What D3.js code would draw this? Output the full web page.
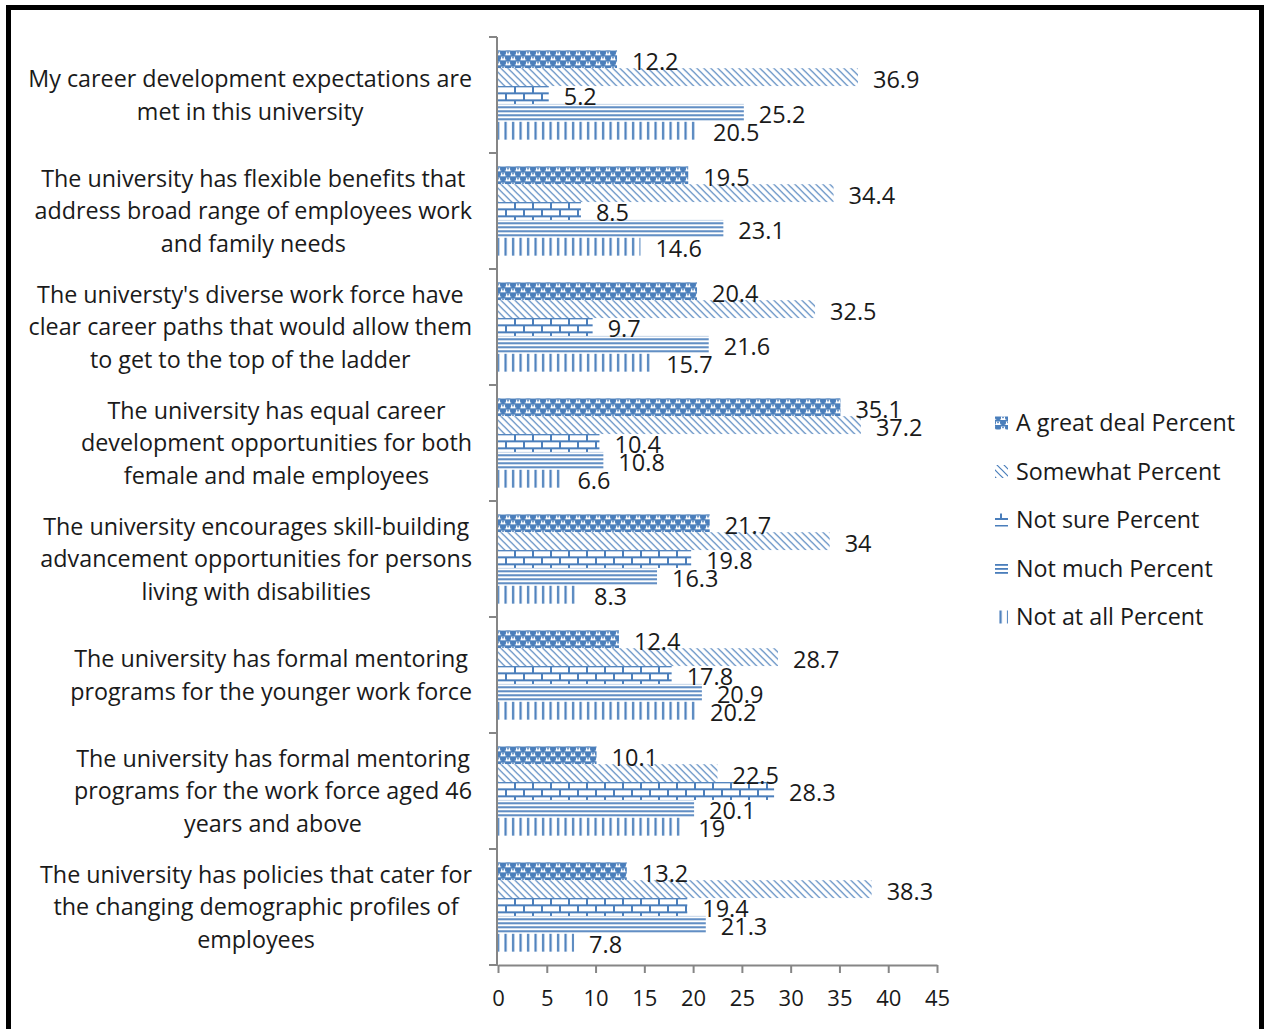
<!DOCTYPE html>
<html>
<head>
<meta charset="utf-8">
<script src="https://cdn.jsdelivr.net/npm/d3@7"></script>
<style>
  html, body { margin: 0; padding: 0; background: #fff; }
  svg { display: block; }
  text { font-family: "Open Sans", Lato, sans-serif; fill: #1a1a1a; }
</style>
</head>
<body>
<svg id="chart" width="1269" height="1029"></svg>
<script>
// Survey statements (top to bottom), each split into display lines
const categories = [
  ["My career development expectations are", "met in this university"],
  ["The university has flexible benefits that", "address broad range of employees work", "and family needs"],
  ["The universty's diverse work force have", "clear career paths that would allow them", "to get to the top of the ladder"],
  ["The university has equal career", "development opportunities for both", "female and male employees"],
  ["The university encourages skill-building", "advancement opportunities for persons", "living with disabilities"],
  ["The university has formal mentoring", "programs for the younger work force"],
  ["The university has formal mentoring", "programs for the work force aged 46", "years and above"],
  ["The university has policies that cater for", "the changing demographic profiles of", "employees"]
];

const seriesNames = ["A great deal Percent", "Somewhat Percent", "Not sure Percent", "Not much Percent", "Not at all Percent"];

const greatDeal = [12.2, 19.5, 20.4, 35.1, 21.7, 12.4, 10.1, 13.2];
const somewhat  = [36.9, 34.4, 32.5, 37.2, 34, 28.7, 22.5, 38.3];
const notSure   = [5.2, 8.5, 9.7, 10.4, 19.8, 17.8, 28.3, 19.4];
const notMuch   = [25.2, 23.1, 21.6, 10.8, 16.3, 20.9, 20.1, 21.3];
const notAtAll  = [20.5, 14.6, 15.7, 6.6, 8.3, 20.2, 19, 7.8];

const xTicks = [0, 5, 10, 15, 20, 25, 30, 35, 40, 45];

const seriesValues = [greatDeal, somewhat, notSure, notMuch, notAtAll];
const patternIds = ["pGreat", "pSome", "pSure", "pMuch", "pAll"];

const blue = "#4a7ebb";
const axisGray = "#868686";
const labelFont = 23.3, valueFont = 23.5, tickFont = 22;
const svg = d3.select("#chart");

// Hatch fills for each response series
const defs = svg.append("defs");
{
  const p = defs.append("pattern").attr("id", "pGreat").attr("patternUnits", "userSpaceOnUse")
    .attr("width", 10).attr("height", 10);
  p.append("rect").attr("width", 10).attr("height", 10).attr("fill", "#fff");
  p.append("rect").attr("x", 0).attr("y", 0).attr("width", 6).attr("height", 5).attr("rx", 2).attr("fill", blue);
  p.append("rect").attr("x", 5).attr("y", 5).attr("width", 6).attr("height", 5).attr("rx", 2).attr("fill", blue);
  p.append("rect").attr("x", -5).attr("y", 5).attr("width", 6).attr("height", 5).attr("rx", 2).attr("fill", blue);
  p.append("rect").attr("x", 0).attr("y", 0).attr("width", 10).attr("height", 1.5).attr("fill", blue);
  p.append("rect").attr("x", 0).attr("y", 5).attr("width", 10).attr("height", 1.5).attr("fill", blue);
  p.append("rect").attr("x", 7.2).attr("y", 1.6).attr("width", 1.6).attr("height", 1.6).attr("fill", blue);
  p.append("rect").attr("x", 2.2).attr("y", 6.6).attr("width", 1.6).attr("height", 1.6).attr("fill", blue);
}
{
  const p = defs.append("pattern").attr("id", "pSome").attr("patternUnits", "userSpaceOnUse")
    .attr("width", 7).attr("height", 7);
  p.append("rect").attr("width", 7).attr("height", 7).attr("fill", "#fff");
  p.append("path").attr("d", "M-2,-2L9,9M-2,5L2,9M5,-2L9,2")
    .attr("stroke", blue).attr("stroke-width", 1.2).attr("fill", "none");
}
{
  const p = defs.append("pattern").attr("id", "pSure").attr("patternUnits", "userSpaceOnUse")
    .attr("width", 18).attr("height", 14);
  p.append("rect").attr("width", 18).attr("height", 14).attr("fill", "#fff");
  p.append("path").attr("d", "M0,1H18M0,8H18M2,0V7M11,7V14")
    .attr("stroke", blue).attr("stroke-width", 2).attr("fill", "none");
}
{
  const p = defs.append("pattern").attr("id", "pMuch").attr("patternUnits", "userSpaceOnUse")
    .attr("width", 8).attr("height", 4);
  p.append("rect").attr("width", 8).attr("height", 4).attr("fill", "#fff");
  p.append("rect").attr("x", 0).attr("y", 0).attr("width", 8).attr("height", 1.8).attr("fill", blue);
}
{
  const p = defs.append("pattern").attr("id", "pAll").attr("patternUnits", "userSpaceOnUse")
    .attr("width", 7.5).attr("height", 8);
  p.append("rect").attr("width", 7.5).attr("height", 8).attr("fill", "#fff");
  p.append("rect").attr("x", 2).attr("y", 0).attr("width", 2.2).attr("height", 8).attr("fill", blue);
}

// Outer frame
svg.append("path")
  .attr("d", "M8.5,1029V7.5H1261.5V1029")
  .attr("fill", "none").attr("stroke", "#000").attr("stroke-width", 5);

const plotLeft = 498, plotRight = 937, plotTop = 37, plotBottom = 965;

const x = d3.scaleLinear().domain([0, 45]).range([plotLeft, plotRight]);
const y0 = d3.scaleBand().domain(d3.range(categories.length))
  .range([plotTop, plotBottom]).paddingInner(0.23).paddingOuter(0.115);
const y1 = d3.scaleBand().domain(d3.range(seriesNames.length)).range([0, y0.bandwidth()]);

// Bars
const groups = svg.append("g").selectAll("g")
  .data(categories).join("g")
  .attr("transform", (d, i) => `translate(0,${y0(i)})`);

groups.each(function (d, ci) {
  const g = d3.select(this);
  seriesValues.forEach((vals, si) => {
    g.append("rect")
      .attr("x", x(0))
      .attr("y", y1(si))
      .attr("width", x(vals[ci]) - x(0))
      .attr("height", y1.bandwidth())
      .attr("fill", `url(#${patternIds[si]})`);
  });
  seriesValues.forEach((vals, si) => {
    g.append("text")
      .attr("x", x(vals[ci]) + 15)
      .attr("y", y1(si) + y1.bandwidth() / 2 + 2)
      .attr("dy", "0.36em")
      .attr("font-size", valueFont)
      .text(vals[ci]);
  });
});

// X axis
const xAxis = svg.append("g")
  .attr("transform", `translate(0,${plotBottom})`)
  .call(d3.axisBottom(x).tickValues(xTicks).tickSize(8).tickSizeOuter(0).tickPadding(17));
xAxis.select(".domain").attr("stroke", axisGray).attr("stroke-width", 2);
xAxis.selectAll(".tick line").attr("stroke", axisGray).attr("stroke-width", 2);
xAxis.selectAll(".tick text").attr("font-size", tickFont)
  .attr("font-family", "'Open Sans', Lato, sans-serif").attr("fill", "#1a1a1a");

// Category axis: line with ticks at band boundaries
const catAxis = svg.append("g");
catAxis.append("line")
  .attr("x1", plotLeft - 1).attr("x2", plotLeft - 1)
  .attr("y1", plotTop).attr("y2", plotBottom + 1)
  .attr("stroke", axisGray).attr("stroke-width", 2);
const boundaries = d3.range(categories.length + 1).map(i => plotTop + i * y0.step());
catAxis.selectAll("line.tick").data(boundaries).join("line")
  .attr("class", "tick")
  .attr("x1", plotLeft - 9).attr("x2", plotLeft - 1)
  .attr("y1", d => d).attr("y2", d => d)
  .attr("stroke", axisGray).attr("stroke-width", 2);

// Category labels: lines centered within a right-aligned block
const labelRight = 472, lineH = 32.5;
categories.forEach((lines, ci) => {
  const cy = plotTop + ci * y0.step() + y0.step() / 2;
  const g = svg.append("g");
  const texts = lines.map((ln, li) => g.append("text")
    .attr("font-size", labelFont)
    .attr("text-anchor", "middle")
    .attr("dy", "0.36em")
    .attr("y", cy + (li - (lines.length - 1) / 2) * lineH)
    .text(ln));
  const maxW = d3.max(texts, t => t.node().getComputedTextLength());
  texts.forEach(t => t.attr("x", labelRight - maxW / 2));
});

// Legend
const legend = svg.append("g");
seriesNames.forEach((name, si) => {
  const ly = 423 + si * 48.5;
  legend.append("rect")
    .attr("x", 995).attr("y", ly - 6.5).attr("width", 13).attr("height", 13)
    .attr("fill", `url(#${patternIds[si]})`);
  legend.append("text")
    .attr("x", 1016).attr("y", ly).attr("dy", "0.36em")
    .attr("font-size", labelFont)
    .text(name);
});
</script>
</body>
</html>
